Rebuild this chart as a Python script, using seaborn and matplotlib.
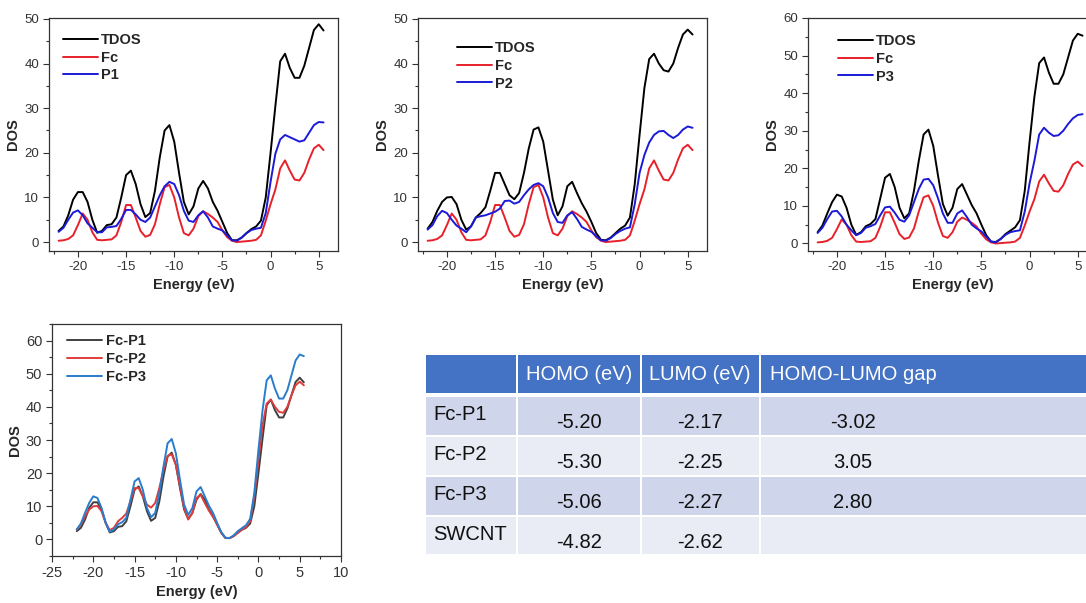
import numpy as np
import pandas as pd
import seaborn as sns
import matplotlib.pyplot as plt
from matplotlib.ticker import MultipleLocator
from matplotlib.patches import Rectangle
from matplotlib import font_manager

# energy grid (eV)
energy = np.arange(-22.0, 5.51, 0.5)

fc = [0.3, 0.4, 0.7, 1.5, 3.8, 6.4, 5.0, 2.2, 0.5, 0.4, 0.5, 0.6, 1.5, 4.5, 8.3, 8.3,
      5.5, 2.5, 1.2, 1.6, 4.0, 8.5, 12.3, 12.8, 10.0, 5.5, 2.0, 1.5, 3.0, 5.8, 6.9, 6.3,
      5.5, 4.5, 2.6, 1.1, 0.3, 0.0, 0.1, 0.2, 0.3, 0.5, 1.5, 4.8, 8.5, 11.8, 16.5, 18.3,
      16.0, 14.0, 13.8, 15.5, 18.5, 21.0, 21.8, 20.6]

tdos1 = [2.5, 3.5, 6.0, 9.5, 11.2, 11.2, 9.0, 5.0, 2.1, 2.5, 3.8, 4.0, 5.5, 10.0, 15.0, 16.0,
         13.0, 8.5, 5.6, 6.5, 11.5, 19.0, 25.0, 26.2, 22.5, 15.5, 9.0, 6.2, 8.0, 12.0, 13.7, 12.0,
         9.0, 7.0, 4.5, 2.0, 0.4, 0.4, 1.0, 2.0, 2.9, 3.5, 4.8, 10.0, 20.0, 30.5, 40.5, 42.2,
         39.0, 36.8, 36.8, 39.5, 43.5, 47.5, 48.8, 47.4]
p1 = [2.3, 3.2, 5.0, 6.6, 7.1, 6.0, 4.2, 3.2, 2.2, 2.2, 3.3, 3.4, 3.6, 5.2, 7.2, 7.2,
      6.2, 5.0, 4.5, 5.5, 8.0, 10.5, 12.5, 13.5, 13.0, 10.5, 7.0, 4.8, 4.5, 6.0, 6.9, 5.5,
      3.5, 3.0, 2.6, 1.5, 0.4, 0.3, 1.0, 2.0, 2.7, 3.0, 3.2, 6.5, 13.5, 19.8, 23.0, 24.0,
      23.5, 23.0, 22.5, 22.8, 24.5, 26.2, 26.9, 26.8]

tdos2 = [3.0, 4.5, 7.0, 9.0, 10.0, 10.1, 8.5, 5.0, 2.8, 3.5, 5.5, 6.5, 7.8, 11.5, 15.5, 15.5,
         13.0, 10.5, 9.6, 11.0, 15.5, 21.0, 25.2, 25.7, 22.5, 16.0, 9.5, 6.0, 8.0, 12.5, 13.5, 11.0,
         8.7, 6.8, 4.5, 2.0, 0.5, 0.4, 1.0, 2.0, 3.0, 3.7, 5.5, 13.0, 24.0, 34.5, 41.0, 42.2,
         40.0, 38.5, 38.2, 40.0, 43.5, 46.5, 47.6, 46.5]
p2 = [2.8, 3.8, 5.8, 7.0, 6.5, 5.0, 3.7, 3.0, 2.2, 3.5, 5.5, 5.8, 6.0, 6.4, 6.8, 7.5,
      9.2, 9.3, 8.6, 9.0, 10.5, 11.8, 12.8, 13.2, 12.5, 10.0, 6.5, 4.5, 4.3, 6.0, 6.7, 5.2,
      3.4, 2.8, 2.3, 1.3, 0.4, 0.3, 0.9, 1.8, 2.5, 3.0, 3.3, 8.5, 15.5, 19.5, 22.3, 24.0,
      24.8, 24.9, 24.0, 23.3, 24.0, 25.2, 25.9, 25.6]

tdos3 = [3.0, 4.8, 8.0, 11.0, 13.0, 12.5, 9.5, 5.0, 2.3, 3.0, 4.6, 5.2, 6.5, 12.0, 17.5, 18.5,
         15.0, 9.5, 6.7, 8.0, 14.0, 22.0, 29.0, 30.3, 26.0, 18.0, 10.5, 7.4, 9.5, 14.5, 15.8, 13.0,
         10.2, 8.0, 5.0, 2.2, 0.5, 0.4, 1.2, 2.5, 3.4, 4.3, 6.2, 14.0, 27.0, 39.0, 48.0, 49.5,
         45.5, 42.5, 42.5, 45.0, 49.5, 54.0, 55.8, 55.3]
p3 = [2.8, 4.2, 6.5, 8.5, 8.7, 7.2, 5.0, 3.5, 2.2, 2.8, 4.2, 4.6, 5.2, 7.5, 9.6, 9.8,
      8.2, 6.3, 5.8, 7.5, 11.0, 14.5, 17.0, 17.2, 15.5, 12.0, 8.0, 5.5, 5.5, 8.0, 8.8, 7.0,
      5.0, 4.0, 3.2, 1.8, 0.5, 0.3, 1.2, 2.3, 3.0, 3.3, 3.5, 8.5, 16.0, 22.0, 29.0, 30.8,
      29.5, 28.6, 28.8, 30.0, 31.8, 33.3, 34.2, 34.4]

# table
row_names = ["Fc-P1", "Fc-P2", "Fc-P3", "SWCNT"]
col_names = ["HOMO (eV)", "LUMO (eV)", "HOMO-LUMO gap"]
homo = ["-5.20", "-5.30", "-5.06", "-4.82"]
lumo = ["-2.17", "-2.25", "-2.27", "-2.62"]
gap = ["-3.02", "3.05", "2.80", ""]

sns.set_theme(style="ticks")
plt.rcParams['font.family'] = ['Liberation Sans', 'DejaVu Sans']
plt.rcParams['axes.unicode_minus'] = False
plt.rcParams['axes.edgecolor'] = '#333333'
plt.rcParams['xtick.color'] = '#333333'
plt.rcParams['ytick.color'] = '#333333'

fig = plt.figure(figsize=(10.86, 6.03), dpi=100)
W, H = 1086, 603


def make_ax(left, top, right, bottom):
    return fig.add_axes([left / W, 1 - bottom / H, (right - left) / W, (bottom - top) / H])


def style_ax(ax, xlim, ylim, ymajor, fs):
    ax.set_xlim(*xlim)
    ax.set_ylim(*ylim)
    ax.xaxis.set_major_locator(MultipleLocator(5))
    ax.xaxis.set_minor_locator(MultipleLocator(2.5))
    ax.yaxis.set_major_locator(MultipleLocator(ymajor))
    ax.yaxis.set_minor_locator(MultipleLocator(ymajor / 2))
    ax.tick_params(which='major', length=4, width=0.8, labelsize=fs, pad=3)
    ax.tick_params(which='minor', length=2, width=0.8)
    for s in ax.spines.values():
        s.set_linewidth(0.9)
    ax.set_xlabel("Energy (eV)", fontsize=10.5, fontweight='bold', labelpad=4)
    ax.set_ylabel("DOS", fontsize=10.5, fontweight='bold', labelpad=3)


panels = [
    (49, "P1", tdos1, p1, (-2, 50.2), 10, (0.048, 0.935)),
    (418, "P2", tdos2, p2, (-2, 50.2), 10, (0.135, 0.9)),
    (808, "P3", tdos3, p3, (-2, 60), 10, (0.104, 0.93)),
]

for left, name, tdos, part, ylim, ymaj, anchor in panels:
    ax = make_ax(left, 18, left + 289, 251)
    sns.lineplot(x=energy, y=tdos, ax=ax, color='black', lw=1.4, label="TDOS")
    sns.lineplot(x=energy, y=fc, ax=ax, color='#e8202a', lw=1.4, label="Fc")
    sns.lineplot(x=energy, y=part, ax=ax, color='#1a1ad8', lw=1.4, label=name)
    style_ax(ax, (-23, 7), ylim, ymaj, 9.5)
    ax.legend(loc='upper left', bbox_to_anchor=anchor, frameon=False, handlelength=2.4,
              handletextpad=0.2, labelspacing=0.25, borderpad=0, borderaxespad=0,
              prop={'weight': 'bold', 'size': 10.5})

# comparison panel
ax4 = make_ax(52, 324, 341, 556)
sns.lineplot(x=energy, y=tdos1, ax=ax4, color='#404040', lw=1.4, label="Fc-P1")
sns.lineplot(x=energy, y=tdos2, ax=ax4, color='#e03c3c', lw=1.4, label="Fc-P2")
sns.lineplot(x=energy, y=tdos3, ax=ax4, color='#2a7ccc', lw=1.4, label="Fc-P3")
style_ax(ax4, (-25, 10), (-5, 65), 10, 10.5)
ax4.legend(loc='upper left', bbox_to_anchor=(0.052, 0.955), frameon=False, handlelength=2.4,
           handletextpad=0.3, labelspacing=0.25, borderpad=0, borderaxespad=0,
           prop={'weight': 'bold', 'size': 10.5})

# table drawn in pixel coordinates
names = {f.name for f in font_manager.fontManager.ttflist}
if 'Liberation Sans Narrow' in names:
    tfont, tsize = ['Liberation Sans Narrow', 'Liberation Sans'], 17
else:
    tfont, tsize = ['Liberation Sans', 'DejaVu Sans'], 14.5

axt = fig.add_axes([0, 0, 1, 1])
axt.set_xlim(0, W)
axt.set_ylim(H, 0)
axt.axis('off')
axt.patch.set_visible(False)

col_edges = [426, 517, 641, 760, 1090]
col_centers = [None, 579, 700, 853]
row_tops = [355, 397, 437, 477, 517]
row_bots = [393, 435, 475, 515, 554]
row_fill = ['#4472c4', '#cfd5ea', '#e9ebf5', '#cfd5ea', '#e9ebf5']

for r in range(5):
    for c in range(4):
        x0 = col_edges[c] + (1 if c > 0 else 0)
        x1 = col_edges[c + 1] - 1
        axt.add_patch(Rectangle((x0, row_tops[r]), x1 - x0, row_bots[r] - row_tops[r],
                                facecolor=row_fill[r], edgecolor='none'))

for c, name in enumerate(col_names):
    axt.text(col_centers[c + 1], 375, name, color='white', fontsize=tsize,
             family=tfont, ha='center', va='center')

for r, name in enumerate(row_names):
    yc = (row_tops[r + 1] + row_bots[r + 1]) / 2
    axt.text(433, yc - 1, name, color='#111111', fontsize=tsize, family=tfont,
             ha='left', va='center')
    for c, vals in enumerate([homo, lumo, gap]):
        axt.text(col_centers[c + 1], yc + 7, vals[r], color='#111111', fontsize=tsize,
                 family=tfont, ha='center', va='center')

fig.savefig("out.png", dpi=100)
